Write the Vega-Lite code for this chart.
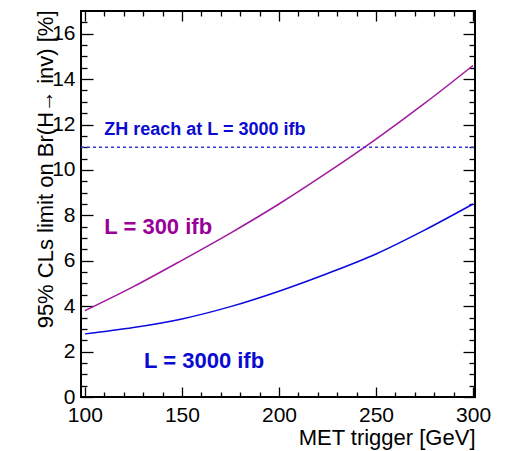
{
  "$schema": "https://vega.github.io/schema/vega-lite/v6.json",
  "width": 394,
  "height": 386,
  "autosize": {"type": "none"},
  "padding": {"left": 81, "top": 11, "right": 35, "bottom": 54},
  "background": "white",
  "config": {
    "view": {"stroke": "black", "strokeWidth": 2},
    "font": "Liberation Sans"
  },
  "datasets": {
    "purple": [
      {"met": 100, "limit": 3.8},
      {"met": 125, "limit": 4.86},
      {"met": 150, "limit": 6.02},
      {"met": 175, "limit": 7.22},
      {"met": 200, "limit": 8.5},
      {"met": 225, "limit": 9.89},
      {"met": 250, "limit": 11.36},
      {"met": 275, "limit": 12.93},
      {"met": 300, "limit": 14.6}
    ],
    "blue": [
      {"met": 100, "limit": 2.78},
      {"met": 125, "limit": 3.06},
      {"met": 150, "limit": 3.44},
      {"met": 175, "limit": 3.98},
      {"met": 200, "limit": 4.66},
      {"met": 225, "limit": 5.44},
      {"met": 250, "limit": 6.3},
      {"met": 275, "limit": 7.35},
      {"met": 300, "limit": 8.5}
    ],
    "reach": [{"met0": 98, "met1": 301, "limit": 11}],
    "labels": [
      {"met": 110, "limit": 11.53, "text": "ZH reach at L = 3000 ifb", "series": "zh"},
      {"met": 110, "limit": 7.2, "text": "L = 300 ifb", "series": "l300"},
      {"met": 130.5, "limit": 1.28, "text": "L = 3000 ifb", "series": "l3000"}
    ]
  },
  "layer": [
    {
      "data": {"name": "purple"},
      "mark": {"type": "line", "color": "#a0189f", "strokeWidth": 1.5, "interpolate": "monotone"},
      "encoding": {
        "x": {
          "field": "met", "type": "quantitative",
          "scale": {"domain": [98, 301], "nice": false, "zero": false},
          "axis": {
            "orient": "bottom",
            "values": [100,110,120,130,140,150,160,170,180,190,200,210,220,230,240,250,260,270,280,290,300],
            "labelExpr": "datum.value % 50 == 0 ? format(datum.value, 'd') : ''",
            "tickSize": {"condition": {"test": "datum.value % 50 == 0", "value": -10}, "value": -5},
            "tickColor": "black", "tickWidth": 1.3,
            "domain": false, "grid": false,
            "labelFont": "Liberation Sans", "labelFontSize": 21, "labelColor": "black",
            "labelPadding": 17, "labelOverlap": false, "labelFlush": false,
            "title": "MET trigger [GeV]", "titleAnchor": "end", "titleFont": "Liberation Sans",
            "titleFontSize": 22, "titleFontWeight": "normal", "titleColor": "black", "titlePadding": -3
          }
        },
        "y": {
          "field": "limit", "type": "quantitative",
          "scale": {"domain": [0, 17], "nice": false, "zero": true},
          "axis": {
            "orient": "left",
            "values": [0,0.5,1,1.5,2,2.5,3,3.5,4,4.5,5,5.5,6,6.5,7,7.5,8,8.5,9,9.5,10,10.5,11,11.5,12,12.5,13,13.5,14,14.5,15,15.5,16,16.5],
            "labelExpr": "datum.value % 2 == 0 ? format(datum.value, 'd') : ''",
            "tickSize": {"condition": {"test": "datum.value % 2 == 0", "value": -12}, "value": -6},
            "tickColor": "black", "tickWidth": 1.3,
            "domain": false, "grid": false,
            "labelFont": "Liberation Sans", "labelFontSize": 21, "labelColor": "black",
            "labelPadding": 18, "labelOverlap": false, "labelFlush": false,
            "title": "95% CLs limit on Br(H→ inv) [%]", "titleFont": "Liberation Sans",
            "titleFontSize": 22, "titleFontWeight": "normal", "titleColor": "black",
            "titleX": -36, "titleY": -1, "titleAngle": -90, "titleAlign": "right", "titleBaseline": "middle"
          }
        }
      }
    },
    {
      "data": {"name": "blue"},
      "mark": {"type": "line", "color": "#0a0ae0", "strokeWidth": 1.5, "interpolate": "monotone"},
      "encoding": {
        "x": {
          "field": "met", "type": "quantitative",
          "axis": {
            "orient": "top",
            "values": [100,110,120,130,140,150,160,170,180,190,200,210,220,230,240,250,260,270,280,290,300],
            "labels": false,
            "tickSize": {"condition": {"test": "datum.value % 50 == 0", "value": -10}, "value": -5},
            "tickColor": "black", "tickWidth": 1.3,
            "domain": false, "grid": false, "title": null
          }
        },
        "y": {
          "field": "limit", "type": "quantitative",
          "axis": {
            "orient": "right",
            "values": [0,0.5,1,1.5,2,2.5,3,3.5,4,4.5,5,5.5,6,6.5,7,7.5,8,8.5,9,9.5,10,10.5,11,11.5,12,12.5,13,13.5,14,14.5,15,15.5,16,16.5],
            "labels": false,
            "tickSize": {"condition": {"test": "datum.value % 2 == 0", "value": -12}, "value": -6},
            "tickColor": "black", "tickWidth": 1.3,
            "domain": false, "grid": false, "title": null
          }
        }
      }
    },
    {
      "data": {"name": "reach"},
      "mark": {"type": "rule", "color": "#3535e0", "strokeWidth": 1.3, "strokeDash": [3, 3]},
      "encoding": {
        "x": {"field": "met0", "type": "quantitative", "axis": null},
        "x2": {"field": "met1"},
        "y": {"field": "limit", "type": "quantitative", "axis": null}
      }
    },
    {
      "data": {"name": "labels"},
      "mark": {"type": "text", "align": "left", "baseline": "alphabetic", "fontWeight": "bold", "font": "Liberation Sans"},
      "encoding": {
        "x": {"field": "met", "type": "quantitative", "axis": null},
        "y": {"field": "limit", "type": "quantitative", "axis": null},
        "text": {"field": "text"},
        "color": {
          "field": "series", "type": "nominal",
          "scale": {"domain": ["zh", "l300", "l3000"], "range": ["#0a0ad0", "#990099", "#0a0ad0"]},
          "legend": null
        },
        "size": {
          "field": "series", "type": "nominal",
          "scale": {"type": "ordinal", "domain": ["zh", "l300", "l3000"], "range": [18, 22, 22]},
          "legend": null
        }
      }
    }
  ],
  "resolve": {"axis": {"x": "independent", "y": "independent"}}
}
